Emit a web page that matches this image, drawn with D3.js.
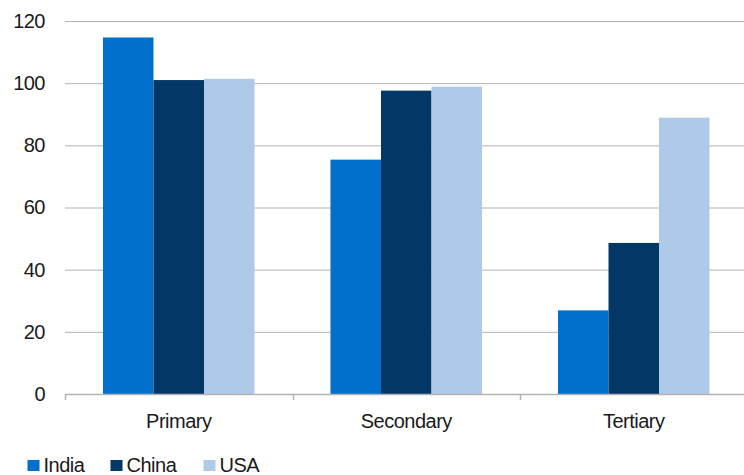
<!DOCTYPE html>
<html><head><meta charset="utf-8">
<script src="https://cdn.jsdelivr.net/npm/d3@7"></script>
<style>body{margin:0;background:#fff}svg{display:block}text{font-family:"Liberation Sans",Arial,sans-serif;fill:#1a1a1a;letter-spacing:-0.5px}</style>
</head><body><svg id="c" width="744" height="475"></svg>
<script>
const categories = ["Primary", "Secondary", "Tertiary"];
const seriesNames = ["India", "China", "USA"];
const india = [114.7, 75.4, 26.9];
const china = [101.0, 97.6, 48.6];
const usa = [101.4, 98.9, 88.9];
const yTicks = [0, 20, 40, 60, 80, 100, 120];
const colors = ["#0070cc", "#033866", "#afc9e8"];

const values = [india, china, usa];
const svg = d3.select("#c");
const mLeft = 65, mRight = 747.5, mTop = 21, mBottom = 394;
const y = d3.scaleLinear().domain([0, 120]).range([mBottom, mTop]);
const x0 = d3.scaleBand().domain(categories).range([mLeft, mRight]).paddingInner(0.334).paddingOuter(0.167);
const x1 = d3.scaleBand().domain(seriesNames).range([0, x0.bandwidth()]);

// gridlines
svg.append("g").selectAll("line").data(yTicks.filter(d => d > 0)).join("line")
  .attr("x1", mLeft).attr("x2", 744).attr("y1", d => y(d) + 0.5).attr("y2", d => y(d) + 0.5)
  .attr("stroke", "#b3b3b3").attr("stroke-width", 1);

// y labels
const yAxis = d3.axisLeft(y).tickValues(yTicks).tickSize(0).tickPadding(0);
const ya = svg.append("g").attr("transform", `translate(45,0)`).call(yAxis);
ya.select(".domain").remove();
ya.selectAll("text").attr("font-size", 20).attr("dy", "0.32em").attr("fill", "#1a1a1a").style("font-family", '"Liberation Sans",Arial,sans-serif');

// bars
const g = svg.append("g");
categories.forEach((c, ci) => {
  seriesNames.forEach((s, si) => {
    g.append("rect")
      .attr("x", x0(c) + x1(s)).attr("width", x1.bandwidth())
      .attr("y", y(values[si][ci])).attr("height", y(0) - y(values[si][ci]))
      .attr("fill", colors[si]);
  });
});

// x axis
const xTickPos = [0, 1, 2, 3].map(i => mLeft + i * x0.step());
svg.append("line").attr("x1", mLeft).attr("x2", 744).attr("y1", mBottom + 0.5).attr("y2", mBottom + 0.5)
  .attr("stroke", "#b3b3b3").attr("stroke-width", 1.5);
svg.append("g").selectAll("line").data(xTickPos).join("line")
  .attr("x1", d => Math.round(d) + 0.5).attr("x2", d => Math.round(d) + 0.5)
  .attr("y1", mBottom).attr("y2", mBottom + 6).attr("stroke", "#b3b3b3").attr("stroke-width", 1.5);
svg.append("g").selectAll("text").data(categories).join("text")
  .attr("x", d => x0(d) + x0.bandwidth() / 2).attr("y", 428)
  .attr("text-anchor", "middle").attr("font-size", 20).text(d => d);

// legend
const legX = [27.5, 110.5, 203.5];
const leg = svg.append("g");
seriesNames.forEach((s, i) => {
  leg.append("rect").attr("x", legX[i]).attr("y", 460).attr("width", 12).attr("height", 11).attr("fill", colors[i]);
  leg.append("text").attr("x", legX[i] + 16).attr("y", 472).attr("font-size", 20).text(s);
});
</script></body></html>
